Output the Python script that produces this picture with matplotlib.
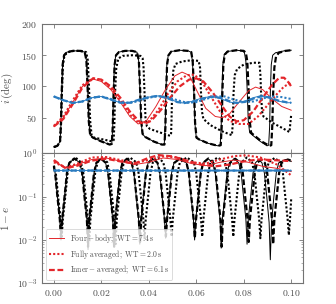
import numpy as np
import matplotlib
matplotlib.use("Agg")
import matplotlib.pyplot as plt

plt.rcParams['mathtext.fontset'] = 'cm'
plt.rcParams['font.family'] = ['DejaVu Serif']

# ---------------- data (t in Myr) ----------------
# inner-orbit inclination (black), i [deg]
I_BLACK_4B = [(0.0000, 3), (0.0015, 5), (0.0026, 12), (0.0030, 40), (0.0033, 90), (0.0037, 135), (0.0043, 150),
              (0.0055, 155), (0.0080, 157), (0.0110, 157), (0.0130, 155), (0.0137, 142), (0.0143, 90), (0.0147, 45),
              (0.0153, 22), (0.0165, 18), (0.0200, 12), (0.0235, 7), (0.0244, 8), (0.0248, 35), (0.0251, 90),
              (0.0255, 135), (0.0261, 150), (0.0273, 155), (0.0300, 157), (0.0330, 157), (0.0350, 155), (0.0357, 142),
              (0.0363, 90), (0.0367, 45), (0.0373, 24), (0.0385, 19), (0.0420, 12), (0.0455, 7), (0.0465, 7),
              (0.0469, 35), (0.0472, 90), (0.0476, 135), (0.0482, 150), (0.0494, 156), (0.0530, 158), (0.0565, 157),
              (0.0578, 155), (0.0584, 140), (0.0590, 90), (0.0594, 42), (0.0600, 18), (0.0612, 15), (0.0650, 9),
              (0.0690, 5), (0.0701, 6), (0.0705, 35), (0.0708, 90), (0.0712, 135), (0.0718, 151), (0.0730, 156),
              (0.0770, 158), (0.0795, 157), (0.0803, 154), (0.0809, 140), (0.0815, 90), (0.0819, 45), (0.0825, 26),
              (0.0837, 22), (0.0870, 12), (0.0898, 5), (0.0905, 6), (0.0909, 35), (0.0912, 90), (0.0916, 135),
              (0.0922, 150), (0.0934, 154), (0.0970, 157), (0.1000, 158)]
I_BLACK_IA = [(0.0000, 3), (0.0015, 5), (0.0026, 12), (0.0030, 40), (0.0033, 90), (0.0037, 135), (0.0043, 150),
              (0.0055, 155), (0.0080, 157), (0.0110, 157), (0.0130, 155), (0.0137, 142), (0.0143, 90), (0.0147, 45),
              (0.0153, 22), (0.0165, 18), (0.0200, 12), (0.0235, 7), (0.0244, 8), (0.0248, 35), (0.0252, 90),
              (0.0256, 135), (0.0262, 150), (0.0274, 155), (0.0300, 157), (0.0330, 157), (0.0350, 155), (0.0358, 142),
              (0.0364, 90), (0.0368, 45), (0.0374, 24), (0.0386, 19), (0.0420, 12), (0.0455, 7), (0.0466, 7),
              (0.0470, 35), (0.0473, 90), (0.0477, 135), (0.0483, 150), (0.0495, 156), (0.0530, 158), (0.0565, 157),
              (0.0579, 155), (0.0585, 140), (0.0591, 90), (0.0595, 42), (0.0601, 18), (0.0613, 15), (0.0650, 9),
              (0.0692, 5), (0.0703, 6), (0.0707, 35), (0.0710, 90), (0.0714, 135), (0.0720, 151), (0.0732, 156),
              (0.0770, 158), (0.0800, 157), (0.0809, 154), (0.0815, 140), (0.0821, 90), (0.0825, 45), (0.0831, 26),
              (0.0843, 22), (0.0875, 12), (0.0908, 5), (0.0916, 6), (0.0920, 35), (0.0924, 90), (0.0929, 130),
              (0.0936, 148), (0.0948, 154), (0.0975, 157), (0.1000, 158)]
I_BLACK_FA = [(0.0000, 3), (0.0015, 5), (0.0026, 12), (0.0030, 40), (0.0034, 90), (0.0038, 135), (0.0045, 150),
              (0.0060, 155), (0.0085, 157), (0.0115, 157), (0.0136, 155), (0.0143, 142), (0.0149, 90), (0.0153, 45),
              (0.0159, 22), (0.0170, 18), (0.0210, 15), (0.0245, 12), (0.0252, 14), (0.0255, 40), (0.0258, 90),
              (0.0263, 130), (0.0272, 145), (0.0290, 149), (0.0330, 150), (0.0365, 149), (0.0374, 145), (0.0378, 130),
              (0.0382, 90), (0.0386, 50), (0.0392, 36), (0.0405, 32), (0.0450, 26), (0.0490, 21), (0.0494, 25),
              (0.0496, 50), (0.0498, 90), (0.0503, 125), (0.0512, 136), (0.0540, 140), (0.0580, 142), (0.0610, 141),
              (0.0616, 130), (0.0620, 90), (0.0624, 60), (0.0630, 48), (0.0660, 38), (0.0710, 28), (0.0750, 22),
              (0.0754, 40), (0.0757, 90), (0.0762, 118), (0.0772, 128), (0.0800, 135), (0.0840, 138), (0.0866, 138),
              (0.0870, 120), (0.0873, 90), (0.0877, 60), (0.0883, 52), (0.0920, 42), (0.0960, 34), (0.0993, 27),
              (0.0996, 40), (0.1000, 55)]

# outer-orbit inclination (red)
I_RED_4B = [(0.000, 36), (0.004, 50), (0.008, 75), (0.012, 100), (0.0165, 112), (0.020, 108), (0.024, 95),
            (0.028, 75), (0.032, 52), (0.0355, 40), (0.039, 45), (0.043, 68), (0.047, 95), (0.051, 117),
            (0.054, 123), (0.057, 118), (0.060, 95), (0.064, 65), (0.068, 52), (0.071, 50), (0.074, 56),
            (0.078, 75), (0.082, 93), (0.085, 99), (0.088, 95), (0.092, 80), (0.096, 68), (0.100, 62)]
I_RED_FA = [(0.000, 37), (0.004, 52), (0.008, 78), (0.012, 102), (0.0165, 113), (0.020, 110), (0.024, 97),
            (0.028, 78), (0.032, 55), (0.036, 41), (0.040, 44), (0.044, 62), (0.048, 88), (0.052, 108),
            (0.056, 118), (0.059, 119), (0.062, 110), (0.066, 85), (0.070, 60), (0.074, 45), (0.078, 40),
            (0.082, 40), (0.086, 52), (0.090, 70), (0.094, 88), (0.097, 100), (0.100, 106)]
I_RED_IA = [(0.000, 36), (0.004, 48), (0.008, 72), (0.012, 98), (0.0165, 113), (0.020, 111), (0.024, 100),
            (0.028, 82), (0.032, 60), (0.036, 44), (0.038, 40), (0.041, 45), (0.045, 62), (0.049, 82),
            (0.053, 100), (0.057, 111), (0.060, 113), (0.063, 108), (0.067, 90), (0.071, 68), (0.074, 52),
            (0.077, 44), (0.080, 46), (0.084, 60), (0.088, 82), (0.092, 103), (0.095, 114), (0.097, 114),
            (0.099, 106), (0.100, 100)]

# third orbit inclination (blue)
I_BLUE_4B = [(0.000, 84), (0.004, 78), (0.008, 73.5), (0.012, 76), (0.016, 82), (0.020, 84), (0.024, 79),
             (0.028, 74), (0.032, 74), (0.036, 79), (0.040, 83), (0.044, 85), (0.048, 81), (0.052, 75),
             (0.0545, 73.5), (0.058, 76), (0.062, 81), (0.066, 84), (0.070, 81), (0.074, 75), (0.0765, 73.5),
             (0.080, 76), (0.084, 82), (0.087, 85), (0.090, 83), (0.094, 77), (0.098, 74), (0.100, 74)]
I_BLUE_FA = [(0.000, 84), (0.004, 78), (0.008, 74), (0.012, 76), (0.016, 82), (0.020, 84), (0.024, 80),
             (0.028, 75), (0.032, 73.5), (0.036, 77), (0.040, 82), (0.044, 84.5), (0.048, 83), (0.052, 78),
             (0.056, 74), (0.060, 75), (0.064, 80), (0.068, 84), (0.072, 84), (0.076, 79), (0.080, 75),
             (0.084, 76), (0.088, 81), (0.092, 84), (0.096, 83), (0.100, 80)]
I_BLUE_IA = [(0.000, 84), (0.004, 78), (0.008, 73.5), (0.012, 76), (0.016, 82), (0.020, 84), (0.024, 79),
             (0.028, 74), (0.032, 74), (0.036, 79), (0.040, 83), (0.044, 85), (0.048, 81), (0.052, 75),
             (0.055, 73.5), (0.059, 76), (0.063, 81), (0.067, 84), (0.071, 81), (0.075, 75), (0.0775, 73.5),
             (0.081, 76), (0.085, 82), (0.088, 84.5), (0.091, 82), (0.095, 77), (0.099, 74), (0.100, 74)]

# 1 - e, inner orbit (black)
E_BLACK_4B = [(0.0000, 0.50), (0.0005, 0.36), (0.0015, 0.10), (0.0025, 0.030), (0.0030, 0.010), (0.0035, 0.030),
              (0.0045, 0.10), (0.0055, 0.35), (0.0065, 0.60), (0.0087, 0.76),
              (0.0109, 0.60), (0.0119, 0.35), (0.0129, 0.10), (0.0139, 0.030), (0.0144, 0.006), (0.0149, 0.030),
              (0.0159, 0.10), (0.0169, 0.35), (0.0179, 0.60), (0.0198, 0.76),
              (0.0218, 0.60), (0.0228, 0.35), (0.0238, 0.10), (0.0248, 0.030), (0.0253, 0.007), (0.0258, 0.030),
              (0.0268, 0.10), (0.0278, 0.35), (0.0288, 0.60), (0.0307, 0.75),
              (0.0327, 0.60), (0.0337, 0.35), (0.0347, 0.10), (0.0357, 0.030), (0.0362, 0.008), (0.0367, 0.030),
              (0.0377, 0.10), (0.0387, 0.35), (0.0397, 0.60), (0.0416, 0.76),
              (0.0436, 0.60), (0.0446, 0.35), (0.0456, 0.10), (0.0466, 0.030), (0.0471, 0.011), (0.0476, 0.030),
              (0.0486, 0.10), (0.0496, 0.35), (0.0506, 0.60), (0.0532, 0.77),
              (0.0558, 0.60), (0.0568, 0.35), (0.0578, 0.10), (0.0588, 0.030), (0.0593, 0.010), (0.0598, 0.030),
              (0.0608, 0.10), (0.0618, 0.35), (0.0628, 0.60), (0.0649, 0.76),
              (0.0670, 0.60), (0.0680, 0.35), (0.0690, 0.10), (0.0700, 0.030), (0.0705, 0.0065), (0.0710, 0.030),
              (0.0720, 0.10), (0.0730, 0.35), (0.0740, 0.60), (0.0760, 0.75),
              (0.0779, 0.60), (0.0789, 0.35), (0.0799, 0.10), (0.0809, 0.030), (0.0814, 0.008), (0.0819, 0.030),
              (0.0829, 0.10), (0.0839, 0.35), (0.0849, 0.60), (0.0863, 0.72),
              (0.0877, 0.60), (0.0887, 0.35), (0.0897, 0.10), (0.0907, 0.025), (0.0912, 0.0035), (0.0917, 0.025),
              (0.0927, 0.10), (0.0937, 0.35), (0.0947, 0.60), (0.0975, 0.72), (0.1000, 0.65)]
E_BLACK_IA = [(0.0000, 0.50), (0.0005, 0.36), (0.0015, 0.10), (0.0025, 0.030), (0.0030, 0.011), (0.0035, 0.030),
              (0.0045, 0.10), (0.0055, 0.35), (0.0065, 0.60), (0.0087, 0.76),
              (0.0109, 0.60), (0.0119, 0.35), (0.0129, 0.10), (0.0139, 0.030), (0.0144, 0.007), (0.0149, 0.030),
              (0.0159, 0.10), (0.0169, 0.35), (0.0179, 0.60), (0.0198, 0.76),
              (0.0219, 0.60), (0.0229, 0.35), (0.0239, 0.10), (0.0249, 0.030), (0.0254, 0.007), (0.0259, 0.030),
              (0.0269, 0.10), (0.0279, 0.35), (0.0289, 0.60), (0.0308, 0.75),
              (0.0328, 0.60), (0.0338, 0.35), (0.0348, 0.10), (0.0358, 0.030), (0.0363, 0.009), (0.0368, 0.030),
              (0.0378, 0.10), (0.0388, 0.35), (0.0398, 0.60), (0.0417, 0.76),
              (0.0437, 0.60), (0.0447, 0.35), (0.0457, 0.10), (0.0467, 0.030), (0.0472, 0.012), (0.0477, 0.030),
              (0.0487, 0.10), (0.0497, 0.35), (0.0507, 0.60), (0.0533, 0.77),
              (0.0559, 0.60), (0.0569, 0.35), (0.0579, 0.10), (0.0589, 0.030), (0.0594, 0.011), (0.0599, 0.030),
              (0.0609, 0.10), (0.0619, 0.35), (0.0629, 0.60), (0.0651, 0.76),
              (0.0672, 0.60), (0.0682, 0.35), (0.0692, 0.10), (0.0702, 0.030), (0.0707, 0.007), (0.0712, 0.030),
              (0.0722, 0.10), (0.0732, 0.35), (0.0742, 0.60), (0.0764, 0.75),
              (0.0786, 0.60), (0.0796, 0.35), (0.0806, 0.10), (0.0816, 0.030), (0.0821, 0.009), (0.0826, 0.030),
              (0.0836, 0.10), (0.0846, 0.35), (0.0856, 0.60), (0.0873, 0.72),
              (0.0889, 0.60), (0.0899, 0.35), (0.0909, 0.10), (0.0919, 0.030), (0.0924, 0.008), (0.0929, 0.030),
              (0.0939, 0.10), (0.0949, 0.35), (0.0959, 0.60), (0.0985, 0.72), (0.1000, 0.68)]
E_BLACK_FA = [(0.0000, 0.52), (0.0008, 0.36), (0.0018, 0.10), (0.0028, 0.030), (0.0033, 0.012), (0.0038, 0.030),
              (0.0048, 0.10), (0.0058, 0.35), (0.0068, 0.62), (0.0091, 0.80),
              (0.0114, 0.62), (0.0124, 0.35), (0.0134, 0.10), (0.0144, 0.030), (0.0149, 0.009), (0.0154, 0.030),
              (0.0164, 0.10), (0.0174, 0.35), (0.0184, 0.62), (0.0205, 0.80),
              (0.0225, 0.62), (0.0235, 0.35), (0.0245, 0.10), (0.0255, 0.030), (0.0260, 0.008), (0.0265, 0.030),
              (0.0275, 0.10), (0.0285, 0.35), (0.0295, 0.62), (0.0321, 0.80),
              (0.0347, 0.62), (0.0357, 0.35), (0.0367, 0.10), (0.0377, 0.030), (0.0382, 0.011), (0.0387, 0.030),
              (0.0397, 0.10), (0.0407, 0.35), (0.0417, 0.62), (0.0439, 0.80),
              (0.0461, 0.62), (0.0471, 0.35), (0.0481, 0.10), (0.0491, 0.030), (0.0496, 0.012), (0.0501, 0.030),
              (0.0511, 0.10), (0.0521, 0.35), (0.0531, 0.62), (0.0560, 0.80),
              (0.0590, 0.62), (0.0600, 0.35), (0.0610, 0.10), (0.0620, 0.030), (0.0625, 0.012), (0.0630, 0.030),
              (0.0640, 0.10), (0.0650, 0.35), (0.0660, 0.62), (0.0690, 0.80),
              (0.0721, 0.62), (0.0731, 0.35), (0.0741, 0.10), (0.0751, 0.030), (0.0756, 0.012), (0.0761, 0.030),
              (0.0771, 0.10), (0.0781, 0.35), (0.0791, 0.62), (0.0813, 0.80),
              (0.0835, 0.62), (0.0845, 0.35), (0.0855, 0.10), (0.0865, 0.030), (0.0870, 0.011), (0.0875, 0.030),
              (0.0885, 0.10), (0.0895, 0.35), (0.0905, 0.62), (0.0930, 0.78),
              (0.0955, 0.62), (0.0965, 0.35), (0.0975, 0.10), (0.0985, 0.030), (0.0990, 0.013), (0.0995, 0.030),
              (0.1000, 0.09)]

# 1 - e, outer orbit (red)
E_RED_4B = [(0.000, 0.66), (0.005, 0.46), (0.010, 0.55), (0.016, 0.72), (0.022, 0.78), (0.028, 0.66),
            (0.034, 0.55), (0.040, 0.62), (0.046, 0.78), (0.052, 0.72), (0.058, 0.58), (0.064, 0.52),
            (0.070, 0.62), (0.076, 0.70), (0.082, 0.62), (0.088, 0.50), (0.094, 0.45), (0.100, 0.38)]
E_RED_FA = [(0.000, 0.62), (0.005, 0.47), (0.010, 0.58), (0.016, 0.80), (0.022, 0.82), (0.028, 0.70),
            (0.034, 0.60), (0.040, 0.70), (0.046, 0.85), (0.052, 0.80), (0.058, 0.62), (0.064, 0.58),
            (0.070, 0.72), (0.076, 0.86), (0.081, 0.90), (0.087, 0.80), (0.094, 0.55), (0.100, 0.31)]
E_RED_IA = [(0.000, 0.70), (0.005, 0.45), (0.010, 0.52), (0.016, 0.68), (0.022, 0.75), (0.028, 0.65),
            (0.034, 0.58), (0.039, 0.75), (0.044, 0.91), (0.050, 0.85), (0.056, 0.68), (0.062, 0.55),
            (0.068, 0.50), (0.074, 0.55), (0.080, 0.65), (0.086, 0.72), (0.092, 0.70), (0.100, 0.66)]

# 1 - e, third orbit (blue)
E_BLUE_4B = [(0.000, 0.400), (0.025, 0.402), (0.050, 0.398), (0.075, 0.401), (0.100, 0.399)]
E_BLUE_FA = [(0.000, 0.400), (0.025, 0.398), (0.050, 0.402), (0.075, 0.399), (0.100, 0.401)]
E_BLUE_IA = [(0.000, 0.401), (0.025, 0.400), (0.050, 0.399), (0.075, 0.400), (0.100, 0.400)]

LABELS = [r"$\mathrm{Four-body;\ WT=7.4\,s}$",
          r"$\mathrm{Fully\ averaged;\ WT=2.0\,s}$",
          r"$\mathrm{Inner-averaged;\ WT=6.1\,s}$"]
X_TICKS = [0.00, 0.02, 0.04, 0.06, 0.08, 0.10]
X_TICKLABELS = [r"$0.00$", r"$0.02$", r"$0.04$", r"$0.06$", r"$0.08$", r"$0.10$"]
I_TICKS = [50, 100, 150, 200]
I_TICKLABELS = [r"$50$", r"$100$", r"$150$", r"$200$"]
E_TICKS = [1e-3, 1e-2, 1e-1, 1e0]
E_TICKLABELS = [r"$10^{-3}$", r"$10^{-2}$", r"$10^{-1}$", r"$10^{0}$"]


def unpack(pairs):
    a = np.array(pairs, dtype=float)
    return a[:, 0], a[:, 1]


BLACK = 'k'
RED = '#e3262b'
BLUE = '#2b7cc0'
EDGE = '0.45'

STYLES = {
    '4B': dict(linestyle='-', lw=0.7),
    'FA': dict(linestyle=(0, (1.0, 1.0)), lw=1.5),
    'IA': dict(linestyle=(0, (2.6, 1.2)), lw=1.6),
}

fig = plt.figure(figsize=(3.36, 3.04), dpi=100)
ax1 = fig.add_axes([0.125, 0.4957, 0.777, 0.4253])
ax2 = fig.add_axes([0.125, 0.068, 0.777, 0.4277], sharex=ax1)

for ax, data in ((ax1, [(I_BLACK_4B, I_BLACK_FA, I_BLACK_IA, BLACK),
                        (I_RED_4B, I_RED_FA, I_RED_IA, RED),
                        (I_BLUE_4B, I_BLUE_FA, I_BLUE_IA, BLUE)]),
                 (ax2, [(E_BLACK_4B, E_BLACK_FA, E_BLACK_IA, BLACK),
                        (E_RED_4B, E_RED_FA, E_RED_IA, RED),
                        (E_BLUE_4B, E_BLUE_FA, E_BLUE_IA, BLUE)])):
    for s4, sf, si, col in data:
        for series, key in ((s4, '4B'), (sf, 'FA'), (si, 'IA')):
            x, y = unpack(series)
            ax.plot(x, y, color=col, **STYLES[key])

ax1.set_xlim(-0.005, 0.105)
ax1.set_ylim(-7, 200)
ax1.set_yticks(I_TICKS)
ax1.set_yticklabels(I_TICKLABELS)
ax1.set_ylabel(r"$i\,(\mathrm{deg})$", fontsize=8, color='0.3')

ax2.set_yscale('log')
ax2.set_ylim(1e-3, 1e0)
ax2.set_yticks(E_TICKS)
ax2.set_yticklabels(E_TICKLABELS)
ax2.set_xticks(X_TICKS)
ax2.set_xticklabels(X_TICKLABELS)
ax2.set_ylabel(r"$1-e$", fontsize=8, color='0.3')
ax2.set_xlabel(r"$t/\mathrm{Myr}$", fontsize=8, color='0.3')

for ax in (ax1, ax2):
    for sp in ax.spines.values():
        sp.set_color(EDGE)
        sp.set_linewidth(0.8)
    ax.tick_params(which='major', direction='in', top=True, right=True, length=3, width=0.6,
                   labelsize=7, color=EDGE, labelcolor='0.3')
    ax.tick_params(which='minor', direction='in', top=True, right=True, length=1.5, width=0.4,
                   color=EDGE)
ax1.tick_params(labelbottom=False)

handles = [plt.Line2D([], [], color=RED, **STYLES[k]) for k in ('4B', 'FA', 'IA')]
leg = ax2.legend(handles, LABELS, loc='lower left', fontsize=5.5, frameon=True,
                 handlelength=2.0, borderpad=0.4, labelspacing=0.35, fancybox=True)
leg.get_frame().set_edgecolor('0.8')
leg.get_frame().set_linewidth(0.6)
for t in leg.get_texts():
    t.set_color('0.3')

fig.savefig('out.png', dpi=100)
